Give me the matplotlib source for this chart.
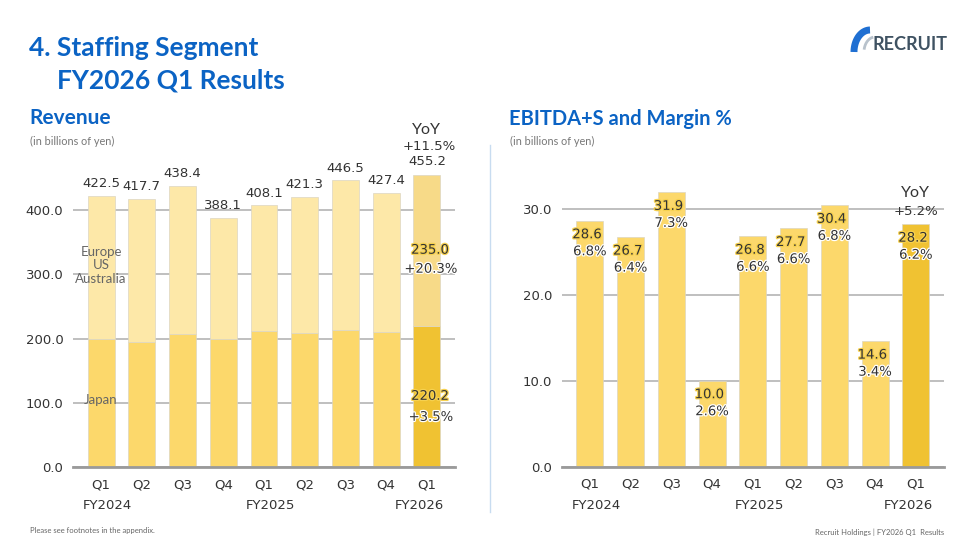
import numpy as np
import matplotlib
matplotlib.use('Agg')
import matplotlib.pyplot as plt
import matplotlib.patheffects as pe
from matplotlib.lines import Line2D

# data
quarters = ['Q1', 'Q2', 'Q3', 'Q4', 'Q1', 'Q2', 'Q3', 'Q4', 'Q1']
fiscal_years = ['FY2024', 'FY2025', 'FY2026']
revenue_total = [422.5, 417.7, 438.4, 388.1, 408.1, 421.3, 446.5, 427.4, 455.2]
revenue_japan = [200.0, 195.0, 207.0, 199.0, 211.4, 209.3, 213.4, 210.9, 220.2]
revenue_yoy = '+11.5%'
overseas_yoy = '+20.3%'
japan_yoy = '+3.5%'
ebitda = [28.6, 26.7, 31.9, 10.0, 26.8, 27.7, 30.4, 14.6, 28.2]
margin = [6.8, 6.4, 7.3, 2.6, 6.6, 6.6, 6.8, 3.4, 6.2]
ebitda_yoy = '+5.2%'

W, H = 968, 544
BLUE = '#0B63C4'
TXT = '#333333'


def fx(x):
    return x / W


def fy(y):
    return 1 - y / H


def pt(px):
    return px * 72 / 100


fig = plt.figure(figsize=(W / 100, H / 100), dpi=100)

x = np.arange(len(quarters))
revenue_overseas = [t - j for t, j in zip(revenue_total, revenue_japan)]

japan_col = ['#FCD86B'] * 8 + ['#F0C232']
over_col = ['#FDE8A8'] * 8 + ['#F7DA88']
ebitda_col = ['#FCD86B'] * 8 + ['#F0C232']

glow_y = [pe.withStroke(linewidth=1.8, foreground='#F6D150')]
glow_w = [pe.withStroke(linewidth=1.8, foreground='white')]


def style(ax, ticks, top):
    ax.set_xlim(-0.69, 8.69)
    ax.set_ylim(0, top)
    ax.set_yticks(ticks)
    ax.set_yticklabels([f'{t:.1f}' for t in ticks])
    ax.grid(axis='y', color='#B4B4B4', lw=1.2, zorder=0)
    ax.set_axisbelow(True)
    for s in ['top', 'right', 'left']:
        ax.spines[s].set_visible(False)
    ax.spines['bottom'].set_color('#9A9A9A')
    ax.spines['bottom'].set_linewidth(2)
    ax.tick_params(axis='y', length=0, pad=7, labelsize=9.5, labelcolor=TXT)
    ax.tick_params(axis='x', length=0, pad=8, labelsize=9.5, labelcolor=TXT)
    ax.set_xticks(x)
    ax.set_xticklabels(quarters)
    for xp, fy_lab in zip([0.15, 4.17, 7.82], fiscal_years):
        ax.annotate(fy_lab, xy=(xp, 0), xycoords=('data', 'axes fraction'),
                    xytext=(0, pt(-39)), textcoords='offset points',
                    ha='center', va='center', fontsize=9.5, color=TXT)


# ---- Revenue ----
ax1 = fig.add_axes([fx(73), fy(467), 382 / W, (467 - 171.7) / H])
style(ax1, [0, 100, 200, 300, 400], 460)
ax1.bar(x, revenue_japan, width=0.66, color=japan_col, edgecolor='#DCD6C2', lw=0.5, zorder=2)
ax1.bar(x, revenue_overseas, width=0.66, bottom=revenue_japan, color=over_col,
        edgecolor='#DCD6C2', lw=0.5, zorder=2)

for i, t in enumerate(revenue_total[:-1]):
    ax1.annotate(f'{t:.1f}', (x[i], t), xytext=(0, pt(12)), textcoords='offset points',
                 ha='center', va='center', fontsize=9.5, color=TXT)

last = len(x) - 1
ax1.annotate(f'{revenue_total[last]:.1f}', (x[last], revenue_total[last]), xytext=(0, pt(13)),
             textcoords='offset points', ha='center', va='center', fontsize=9.5, color=TXT)
ax1.annotate(revenue_yoy, (x[last], revenue_total[last]), xytext=(2, pt(28)),
             textcoords='offset points', ha='center', va='center', fontsize=9.5, color=TXT)
ax1.annotate('YoY', (x[last], revenue_total[last]), xytext=(0, pt(45)),
             textcoords='offset points', ha='center', va='center', fontsize=11.5, color=TXT,
             family='Lato', annotation_clip=False)

mid_over = revenue_japan[last] + revenue_overseas[last] / 2
ax1.text(x[last] + 0.08, mid_over, f'{revenue_overseas[last]:.1f}', ha='center', va='center',
         fontsize=9.5, color=TXT, path_effects=glow_y, zorder=4)
ax1.annotate(overseas_yoy, (x[last] + 0.1, mid_over), xytext=(0, pt(-19)),
             textcoords='offset points', ha='center', va='center', fontsize=9.5, color=TXT,
             path_effects=glow_w, zorder=4)
mid_jp = revenue_japan[last] / 2
ax1.text(x[last] + 0.08, mid_jp, f'{revenue_japan[last]:.1f}', ha='center', va='center',
         fontsize=9.5, color=TXT, path_effects=glow_y, zorder=4)
ax1.annotate(japan_yoy, (x[last] + 0.1, mid_jp), xytext=(0, pt(-21)),
             textcoords='offset points', ha='center', va='center', fontsize=9.5, color=TXT,
             path_effects=glow_w, zorder=4)

ax1.text(x[0], revenue_japan[0] + revenue_overseas[0] / 2 + 3, 'Europe\nUS\nAustralia',
         ha='center', va='center', fontsize=9.5, color='#666666', family='Lato',
         linespacing=1.15, zorder=4)
ax1.text(x[0], revenue_japan[0] / 2 + 5, 'Japan', ha='center', va='center',
         fontsize=9.5, color='#666666', family='Lato', zorder=4)

# ---- EBITDA+S ----
ax2 = fig.add_axes([fx(561.7), fy(466.7), 382.3 / W, (466.7 - 182.9) / H])
style(ax2, [0, 10, 20, 30], 33)
ax2.bar(x, ebitda, width=0.66, color=ebitda_col, edgecolor='#DCD6C2', lw=0.5, zorder=2)

for i, (v, m) in enumerate(zip(ebitda, margin)):
    ax2.annotate(f'{v:.1f}', (x[i], v), xytext=(-2, pt(-14)), textcoords='offset points',
                 ha='center', va='center', fontsize=9.5, color=TXT, path_effects=glow_y, zorder=4)
    ax2.annotate(f'{m:.1f}%', (x[i], v), xytext=(0, pt(-31)), textcoords='offset points',
                 ha='center', va='center', fontsize=9.5, color=TXT, path_effects=glow_w, zorder=4)

ax2.annotate(ebitda_yoy, (x[last], ebitda[last]), xytext=(0, pt(13)), textcoords='offset points',
             ha='center', va='center', fontsize=9.5, color=TXT)
ax2.annotate('YoY', (x[last], ebitda[last]), xytext=(0, pt(31)), textcoords='offset points',
             ha='center', va='center', fontsize=11.5, color=TXT, family='Lato')

# ---- titles and page furniture ----
fig.text(fx(29), fy(48), '4. Staffing Segment', fontsize=19, fontweight='bold',
         color=BLUE, family='Lato', va='center')
fig.text(fx(57), fy(80), 'FY2026 Q1 Results', fontsize=19, fontweight='bold',
         color=BLUE, family='Lato', va='center')
fig.text(fx(29), fy(118), 'Revenue', fontsize=15, fontweight='bold', color=BLUE,
         family='Lato', va='center')
fig.text(fx(509), fy(119), 'EBITDA+S and Margin %', fontsize=14.5, fontweight='bold',
         color=BLUE, family='Lato', va='center')
for xx in (30, 510):
    fig.text(fx(xx), fy(141), '(in billions of yen)', fontsize=7.8, color='#777777',
             family='Lato', va='center')

fig.add_artist(Line2D([fx(490), fx(490)], [fy(145), fy(512)], color='#C8DCF0', lw=1))

fig.text(fx(30), fy(531), 'Please see footnotes in the appendix.', fontsize=5.5,
         color='#666666', family='Lato', va='center')
fig.text(fx(815), fy(532), 'Recruit Holdings | FY2026 Q1  Results', fontsize=5.5,
         color='#666666', family='Lato', va='center')

# RECRUIT logo
t = np.linspace(np.pi, np.pi / 2, 30)
fig.add_artist(Line2D(fx(870 + 16 * np.cos(t)), fy(52 - 22 * np.sin(t)),
                      color='#1F6FD2', lw=5, solid_capstyle='butt'))
t2 = np.linspace(np.pi * 0.95, np.pi * 0.55, 20)
fig.add_artist(Line2D(fx(875 + 11 * np.cos(t2)), fy(52 - 15 * np.sin(t2)),
                      color='#B8C2CC', lw=2, solid_capstyle='butt'))
fig.text(fx(872), fy(44), 'RECRUIT', fontsize=13, fontweight='bold', color='#3F5262',
         family='Lato', va='center')

fig.savefig('out.png', dpi=100)
